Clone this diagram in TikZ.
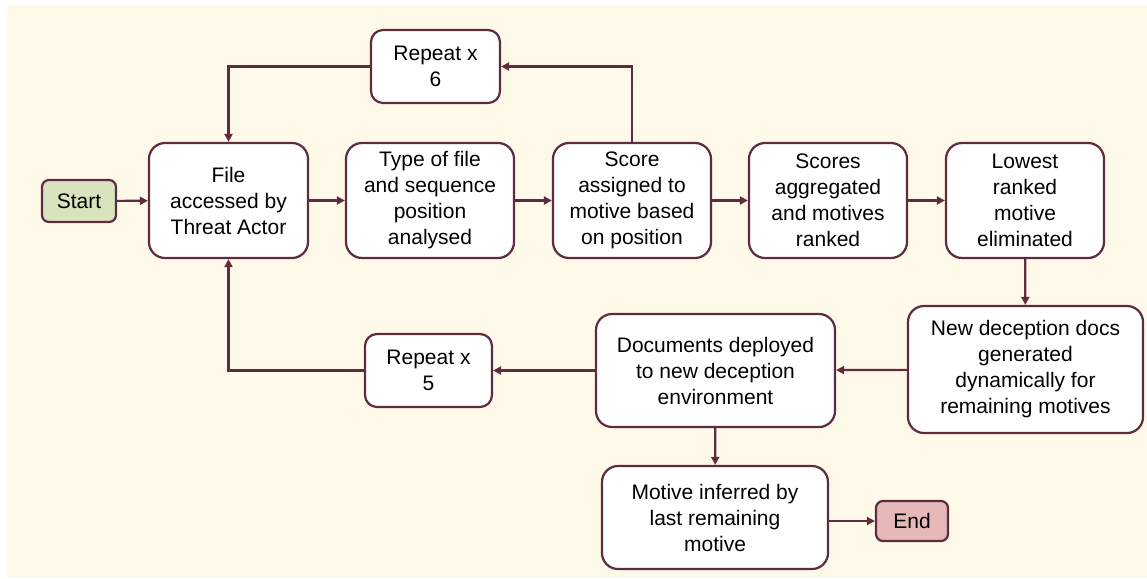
\documentclass[tikz,border=0pt]{standalone}
\usepackage{fontspec}
\setmainfont{Liberation Sans}
\usetikzlibrary{arrows.meta}
\definecolor{bg}{HTML}{FEF9E9}
\definecolor{ln}{HTML}{5E2B3F}
\definecolor{startc}{HTML}{D7E4BD}
\definecolor{endc}{HTML}{E6B9B8}
\begin{document}
\begin{tikzpicture}[x=1pt,y=-1pt,
  box/.style={draw=ln, line width=2.2pt, fill=white, rounded corners=16pt, align=center, inner sep=0pt, font=\fontsize{21}{26}\selectfont},
  smallbox/.style={box, rounded corners=12pt},
  term/.style={box, rounded corners=7pt},
  conn/.style={draw=ln, line width=2.2pt, -{Triangle[length=8pt,width=8pt]}}]
\useasboundingbox (0,0) rectangle (1147,578);
\fill[white] (0,0) rectangle (1147,578);
\fill[bg] (7,5) rectangle (1147,578);
\node[term, fill=startc, minimum width=74pt, minimum height=42pt] (start) at (79,201) {Start};
\node[box, minimum width=159pt, minimum height=115pt] (file) at (228.5,200.5) {File\\accessed by\\Threat Actor};
\node[box, minimum width=168pt, minimum height=115pt] (type) at (430,200.5) {Type of file\\and sequence\\position\\analysed};
\node[box, minimum width=158pt, minimum height=115pt] (score) at (632,200.5) {Score\\assigned to\\motive based\\on position};
\node[box, minimum width=158pt, minimum height=115pt] (agg) at (828,200.5) {Scores\\aggregated\\and motives\\ranked};
\node[box, minimum width=158pt, minimum height=115pt] (low) at (1025,200.5) {Lowest\\ranked\\motive\\eliminated};
\node[smallbox, minimum width=129pt, minimum height=73pt] (rep6) at (435.5,66.5) {Repeat x\\6};
\node[box, minimum width=235pt, minimum height=127pt] (new) at (1025.5,369.5) {New deception docs\\generated\\dynamically for\\remaining motives};
\node[box, minimum width=239pt, minimum height=113pt] (deploy) at (715.5,370.5) {Documents deployed\\to new deception\\environment};
\node[smallbox, minimum width=127pt, minimum height=73pt] (rep5) at (428.5,370.5) {Repeat x\\5};
\node[box, minimum width=226pt, minimum height=103pt] (motive) at (715,517.5) {Motive inferred by\\last remaining\\motive};
\node[term, fill=endc, minimum width=72pt, minimum height=40pt] (end) at (912,521) {End};
\draw[conn] (start) -- (file);
\draw[conn] (file) -- (type);
\draw[conn] (type) -- (score);
\draw[conn] (score) -- (agg);
\draw[conn] (agg) -- (low);
\draw[conn] (low) -- (new);
\draw[conn] (new) -- (deploy);
\draw[conn] (deploy) -- (rep5);
\draw[conn] (rep5.west) -| (file.south);
\draw[conn] (score.north) |- (rep6.east);
\draw[conn] (rep6.west) -| (file.north);
\draw[conn] (deploy) -- (motive);
\draw[conn] (motive.east |- end.west) -- (end.west);
\end{tikzpicture}
\end{document}
